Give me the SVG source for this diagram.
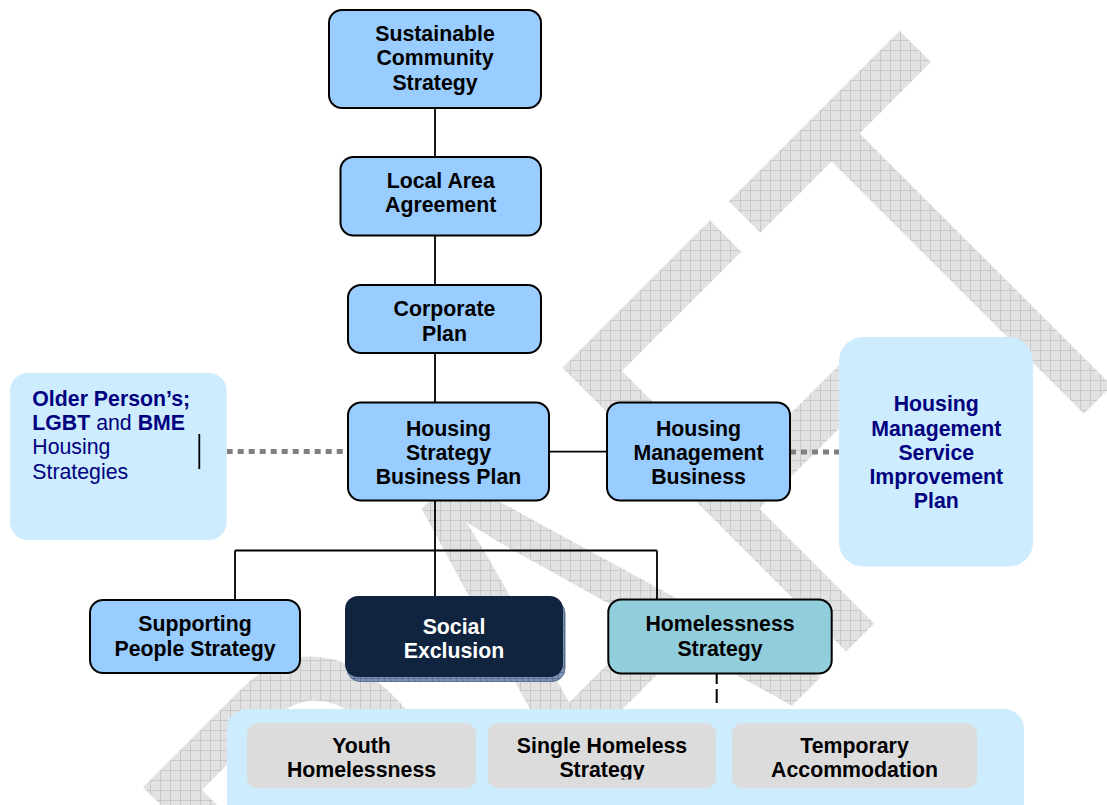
<svg xmlns="http://www.w3.org/2000/svg" width="1107" height="805" viewBox="0 0 1107 805">
<style>
text{font-family:"Liberation Sans",Arial,sans-serif;font-size:21.3px;}
.b{font-weight:bold;}
.c{text-anchor:middle;font-weight:bold;fill:#000;}
.nb{fill:#000080;}
.box{fill:#99ccff;stroke:#000;stroke-width:2;}
.lite{fill:#cdecfe;}
.grey{fill:#dcdcdc;}
.ln{fill:none;stroke:#000;stroke-width:1.8;}
.dot{fill:none;stroke:#808080;stroke-width:5;stroke-dasharray:6 5;}
</style>
<defs>
<pattern id="hatch" patternUnits="userSpaceOnUse" width="10" height="10" patternTransform="scale(1,0.732064) translate(0,-1059) rotate(45)">
<rect width="10" height="10" fill="#e2e2e2"/>
<path d="M0 0.5H10M0.5 0V10" stroke="#c9c9c9" stroke-width="1"/>
</pattern>
<pattern id="shad" patternUnits="userSpaceOnUse" width="6" height="6">
<rect width="6" height="6" fill="#8093b2"/>
<path d="M0 0.5H6M0.5 0V6" stroke="#5d7196" stroke-width="1"/>
</pattern>
<clipPath id="clipBottom"><rect x="227" y="700" width="800" height="79.5"/></clipPath>
</defs>

<g id="watermark">
<text transform="rotate(-45) translate(0,1059) scale(1,1.366)" x="-799" y="0" style="font-family:'Liberation Sans',Arial,sans-serif;font-size:427px;font-weight:normal;font-kerning:none" fill="url(#hatch)">DRAFT</text>
</g>

<g id="connectors">
<path class="ln" d="M435,108V157M435,235.5V285M435,353V402.5M435,500.5V596M235,550.5H657M235,550.5V600M657,550.5V599.5M549,451.7H607"/>
<path class="dot" d="M226.7,451.5H348M790,452H839"/>
<path fill="none" stroke="#000" stroke-width="2" stroke-dasharray="10 5 14 5" d="M716.7,674V703"/>
</g>

<g id="sustainable-community-strategy">
<rect class="box" x="329" y="10" width="212" height="98" rx="13"/>
<text class="c" x="435" y="40.7">Sustainable</text>
<text class="c" x="435" y="65.2">Community</text>
<text class="c" x="435" y="89.5">Strategy</text>
</g>

<g id="local-area-agreement">
<rect class="box" x="340.5" y="157" width="200.5" height="78.5" rx="13"/>
<text class="c" x="440.7" y="187.7">Local Area</text>
<text class="c" x="440.7" y="212.3">Agreement</text>
</g>

<g id="corporate-plan">
<rect class="box" x="348" y="285" width="193" height="68" rx="13"/>
<text class="c" x="444.5" y="315.7">Corporate</text>
<text class="c" x="444.5" y="340.5">Plan</text>
</g>

<g id="housing-strategy-business-plan">
<rect class="box" x="348" y="402.5" width="201" height="98" rx="13"/>
<text class="c" x="448.5" y="436">Housing</text>
<text class="c" x="448.5" y="460">Strategy</text>
<text class="c" x="448.5" y="483.5">Business Plan</text>
</g>

<g id="housing-management-business">
<rect class="box" x="607" y="402.5" width="183" height="98" rx="13"/>
<text class="c" x="698.5" y="436">Housing</text>
<text class="c" x="698.5" y="460">Management</text>
<text class="c" x="698.5" y="483.5">Business</text>
</g>

<g id="older-persons-strategies">
<rect class="lite" x="10" y="373" width="216.7" height="167" rx="18"/>
<text class="nb b" x="32.3" y="405.7">Older Person’s;</text>
<text class="nb" x="32.3" y="429.5"><tspan class="b">LGBT</tspan> and <tspan class="b">BME</tspan></text>
<text class="nb" x="32.3" y="454.2">Housing</text>
<text class="nb" x="32.3" y="478.8">Strategies</text>
<path d="M199.3,434V469" stroke="#000" stroke-width="1.8"/>
</g>

<g id="housing-management-service-improvement-plan">
<rect class="lite" x="839" y="337" width="194" height="229.5" rx="24"/>
<text class="nb b" text-anchor="middle" x="936.3" y="411">Housing</text>
<text class="nb b" text-anchor="middle" x="936.3" y="435.5">Management</text>
<text class="nb b" text-anchor="middle" x="936.3" y="459.5">Service</text>
<text class="nb b" text-anchor="middle" x="936.3" y="483.8">Improvement</text>
<text class="nb b" text-anchor="middle" x="936.3" y="508.3">Plan</text>
</g>

<g id="supporting-people-strategy">
<rect class="box" x="90" y="600" width="210" height="73" rx="13"/>
<text class="c" x="195" y="631">Supporting</text>
<text class="c" x="195" y="655.5">People Strategy</text>
</g>

<g id="social-exclusion">
<rect x="347" y="600.5" width="218" height="81" rx="13" fill="url(#shad)" stroke="#5d7196" stroke-width="1"/>
<rect x="345" y="596" width="218" height="81" rx="13" fill="#10243f"/>
<text class="c" style="fill:#fff" x="454" y="633.5">Social</text>
<text class="c" style="fill:#fff" x="454" y="657.7">Exclusion</text>
</g>

<g id="homelessness-strategy">
<rect x="608.3" y="599.5" width="223.4" height="74" rx="13" fill="#92cddc" stroke="#000" stroke-width="2"/>
<text class="c" x="720" y="631">Homelessness</text>
<text class="c" x="720" y="655.5">Strategy</text>
</g>

<g id="homelessness-substrategies">
<rect class="lite" x="227" y="709" width="797" height="125" rx="20"/>
<g id="youth-homelessness">
<rect class="grey" x="247" y="723.3" width="229" height="65" rx="10"/>
<g clip-path="url(#clipBottom)">
<text class="c" x="361.5" y="752.7">Youth</text>
<text class="c" x="361.5" y="777.3">Homelessness</text>
</g>
</g>
<g id="single-homeless-strategy">
<rect class="grey" x="488" y="723.3" width="228" height="65" rx="10"/>
<g clip-path="url(#clipBottom)">
<text class="c" x="602" y="752.7">Single Homeless</text>
<text class="c" x="602" y="777.3">Strategy</text>
</g>
</g>
<g id="temporary-accommodation">
<rect class="grey" x="732" y="723.3" width="245" height="65" rx="10"/>
<g clip-path="url(#clipBottom)">
<text class="c" x="854.5" y="752.7">Temporary</text>
<text class="c" x="854.5" y="777.3">Accommodation</text>
</g>
</g>
</g>
</svg>
